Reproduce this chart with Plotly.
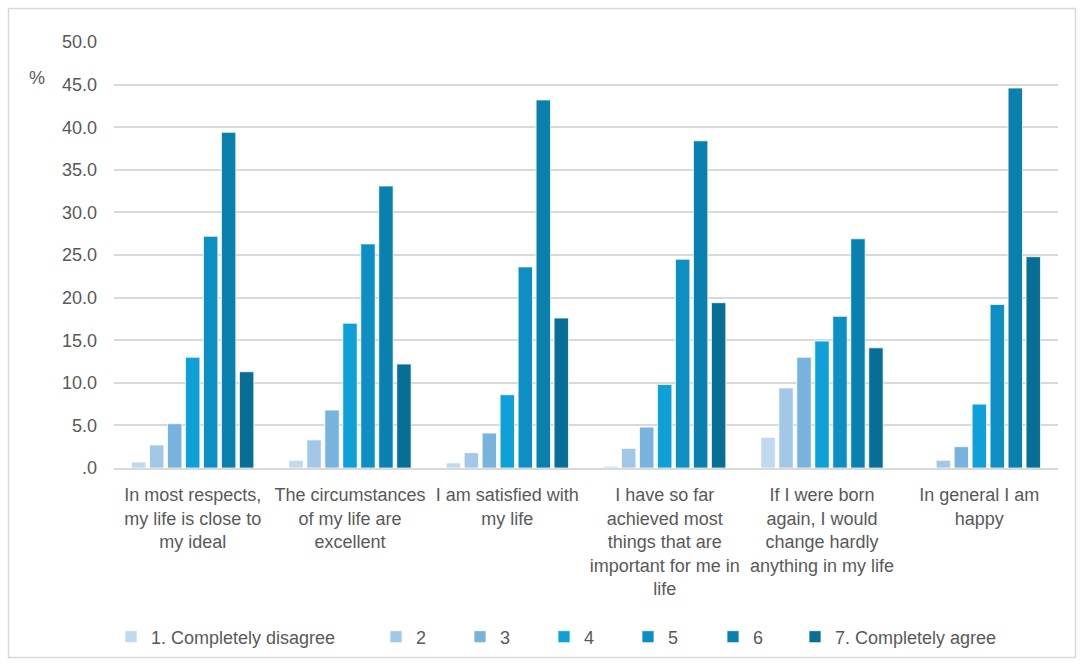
import plotly.graph_objects as go

# Survey items (x categories), wrapped as they appear under the axis
categories = [
    "In most respects,<br>my life is close to<br>my ideal",
    "The circumstances<br>of my life are<br>excellent",
    "I am satisfied with<br>my life",
    "I have so far<br>achieved most<br>things that are<br>important for me in<br>life",
    "If I were born<br>again, I would<br>change hardly<br>anything in my life",
    "In general I am<br>happy",
]

# Response options (series names)
series_names = ["1. Completely disagree", "2", "3", "4", "5", "6", "7. Completely agree"]

# Share of respondents (%) per response option, one value per item
s1 = [0.7, 0.9, 0.6, 0.2, 3.6, 0.0]
s2 = [2.7, 3.3, 1.8, 2.3, 9.4, 0.9]
s3 = [5.2, 6.8, 4.1, 4.8, 13.0, 2.5]
s4 = [13.0, 17.0, 8.6, 9.8, 14.9, 7.5]
s5 = [27.2, 26.3, 23.6, 24.5, 17.8, 19.2]
s6 = [39.4, 33.1, 43.2, 38.4, 26.9, 44.6]
s7 = [11.3, 12.2, 17.6, 19.4, 14.1, 24.8]
series_values = [s1, s2, s3, s4, s5, s6, s7]

# Y axis ticks
y_ticks = [0, 5, 10, 15, 20, 25, 30, 35, 40, 45, 50]
y_ticktext = [f"{v:.1f}".lstrip("0") for v in y_ticks]

colors = ["#C1D9EE", "#A2C7E7", "#78B3DD", "#0FA0D8", "#0D8FC3", "#0A80AF", "#076F96"]

FONT = "Liberation Sans, Arial, sans-serif"
GREY = "#595959"

# Plot-area geometry in pixels (used for placing the frame and legends)
W, H = 1083, 664
L, R, T, B = 114, 25, 42, 196
pw = W - L - R
ph = H - T - B


def px_to_paper_x(px):
    return (px - L) / pw


def px_to_paper_y(py):
    return (H - B - py) / ph


fig = go.Figure()

# Legend text x positions (px) for each series; one legend per entry
legend_text_x = [151, 416, 500, 584, 668, 753, 835]

for i, (name, vals, col) in enumerate(zip(series_names, series_values, colors)):
    lname = "legend" if i == 0 else f"legend{i + 1}"
    fig.add_trace(go.Bar(
        x=categories,
        y=vals,
        name=name,
        marker=dict(color=col, line=dict(color="rgba(255,255,255,0.75)", width=1)),
        legend=lname,
    ))

legend_layouts = {}
for i, tx in enumerate(legend_text_x):
    key = "legend" if i == 0 else f"legend{i + 1}"
    legend_layouts[key] = dict(
        x=px_to_paper_x(tx - 40),
        xanchor="left",
        y=px_to_paper_y(637),
        yanchor="middle",
        orientation="h",
        bgcolor="rgba(0,0,0,0)",
        borderwidth=0,
        itemwidth=30,
        font=dict(family=FONT, size=18, color=GREY),
    )

fig.update_layout(
    width=W,
    height=H,
    margin=dict(l=L, r=R, t=T, b=B, autoexpand=False),
    paper_bgcolor="white",
    plot_bgcolor="white",
    barmode="group",
    bargap=0.2,
    bargroupgap=0.2,
    showlegend=True,
    font=dict(family=FONT, size=18, color=GREY),
    xaxis=dict(
        showgrid=False,
        showline=True,
        linecolor="#D9D9D9",
        linewidth=1.5,
        ticks="",
        ticklabelstandoff=10,
        automargin=False,
        tickfont=dict(family=FONT, size=18, color=GREY),
        fixedrange=True,
    ),
    yaxis=dict(
        range=[0, 50],
        tickvals=y_ticks,
        ticktext=y_ticktext,
        showgrid=True,
        gridcolor="#D9D9D9",
        gridwidth=1.5,
        zeroline=False,
        showline=False,
        ticks="",
        ticklabelstandoff=16,
        automargin=False,
        tickfont=dict(family=FONT, size=18, color=GREY),
        fixedrange=True,
    ),
    annotations=[
        dict(
            text="%",
            xref="paper", yref="paper",
            x=px_to_paper_x(37), y=px_to_paper_y(78),
            xanchor="center", yanchor="middle",
            showarrow=False,
            font=dict(family=FONT, size=18, color=GREY),
        )
    ],
    shapes=[
        dict(
            type="rect",
            xref="paper", yref="paper",
            x0=px_to_paper_x(8.5), x1=px_to_paper_x(1075.5),
            y0=px_to_paper_y(657.5), y1=px_to_paper_y(8.5),
            line=dict(color="#D9D9D9", width=1.5),
            fillcolor="rgba(0,0,0,0)",
            layer="below",
        )
    ],
    **legend_layouts,
)

fig.write_html("out.html")
